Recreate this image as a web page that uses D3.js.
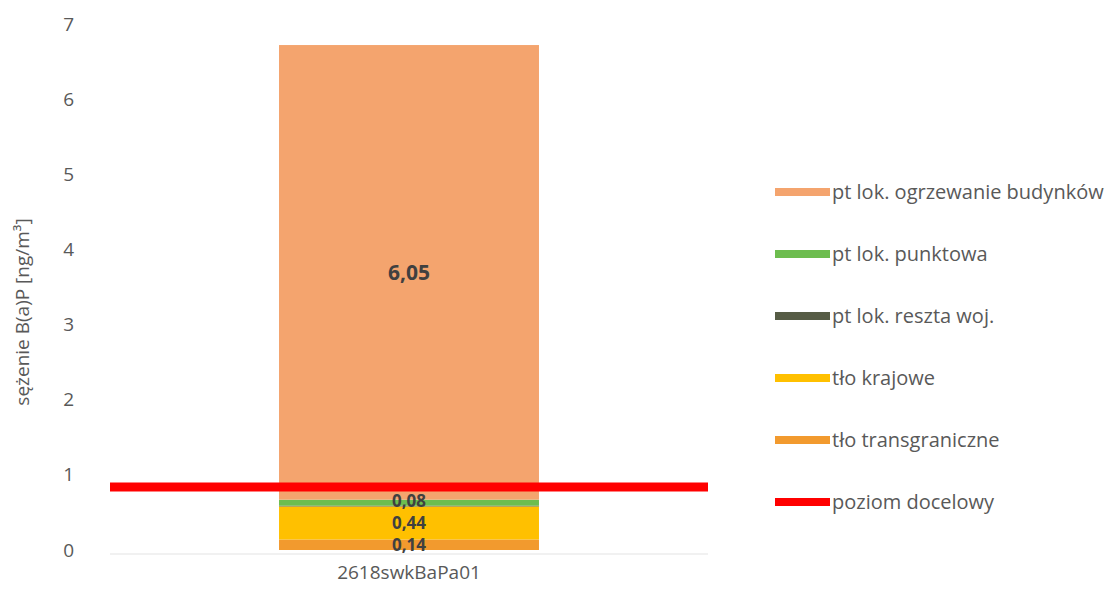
<!DOCTYPE html>
<html>
<head>
<meta charset="utf-8">
<script src="https://cdn.jsdelivr.net/npm/d3@7"></script>
<style>
  body { margin: 0; background: #fff; }
  text { font-family: "Open Sans", sans-serif; }
</style>
</head>
<body>
<div id="chart"></div>
<script>
var width = 1120,
	height = 590;

// data
var categories = ["2618swkBaPa01"];
var seriesNames = ["tło transgraniczne", "tło krajowe", "pt lok. reszta woj.", "pt lok. punktowa", "pt lok. ogrzewanie budynków"];
var seriesValues = [0.14, 0.44, 0.01, 0.08, 6.05];
var seriesLabels = ["0,14", "0,44", "", "0,08", "6,05"];
var seriesColors = ["#f29a2e", "#ffc000", "#565c45", "#6dbd4f", "#f4a46e"];
var targetName = "poziom docelowy";
var targetValue = 0.84;
var yTicks = [0, 1, 2, 3, 4, 5, 6, 7];

var svg = d3.select("#chart").append("svg")
	.attr("width", width)
	.attr("height", height);

var y = d3.scaleLinear().domain([0, 7]).range([550, 24]);
var x = d3.scaleBand().domain(categories).range([110, 708])
	.paddingInner(0.394).paddingOuter(0.394);

// y tick labels (no axis line)
var yAxis = svg.append("g")
	.attr("transform", "translate(82,0)")
	.call(d3.axisLeft(y).tickValues(yTicks).tickFormat(d3.format("d")).tickSize(0).tickPadding(8));
yAxis.select(".domain").remove();
yAxis.selectAll("text")
	.style("font-family", "'Open Sans', sans-serif")
	.style("font-size", "19px")
	.attr("fill", "#595959");

svg.append("text")
	.attr("transform", "translate(29,312) rotate(-90)")
	.attr("text-anchor", "middle")
	.style("font-size", "19px")
	.attr("fill", "#595959")
	.text("sężenie B(a)P [ng/m³]");

// baseline
svg.append("line")
	.attr("x1", 110).attr("x2", 708)
	.attr("y1", y(0) + 4).attr("y2", y(0) + 4)
	.attr("stroke", "#e3e3e3")
	.attr("stroke-width", 1);

// stacked segments
var stacked = [];
var acc = 0;
seriesValues.forEach(function(v, i) {
	stacked.push({ name: seriesNames[i], y0: acc, y1: acc + v, label: seriesLabels[i], color: seriesColors[i] });
	acc += v;
});

// label positions, pushed up a bit when they would collide
var prevPos = Infinity;
stacked.forEach(function(d) {
	if (!d.label) return;
	d.ly = Math.min(y((d.y0 + d.y1) / 2), prevPos - 22);
	prevPos = d.ly;
});

var bars = svg.append("g").attr("class", "bars");
categories.forEach(function(cat) {
	bars.selectAll("rect")
		.data(stacked)
		.enter()
		.append("rect")
		.attr("x", x(cat))
		.attr("width", x.bandwidth())
		.attr("y", function(d) { return y(d.y1); })
		.attr("height", function(d) { return y(d.y0) - y(d.y1); })
		.attr("fill", function(d) { return d.color; });

	bars.selectAll("text")
		.data(stacked.filter(function(d) { return d.label; }))
		.enter()
		.append("text")
		.attr("x", x(cat) + x.bandwidth() / 2)
		.attr("y", function(d) { return d.ly; })
		.attr("dy", "0.35em")
		.attr("text-anchor", "middle")
		.style("font-size", function(d) { return d.y1 - d.y0 > 1 ? "21px" : "17px"; })
		.style("font-weight", "bold")
		.attr("fill", "#404040")
		.text(function(d) { return d.label; });
});

// target line
svg.append("line")
	.attr("x1", 110).attr("x2", 708)
	.attr("y1", y(targetValue)).attr("y2", y(targetValue))
	.attr("stroke", "#ff0000")
	.attr("stroke-width", 9);

// category label
svg.append("g")
	.attr("transform", "translate(0," + (y(0) + 9) + ")")
	.call(d3.axisBottom(x).tickSize(0).tickPadding(6))
	.call(function(g) { g.select(".domain").remove(); })
	.selectAll("text")
	.style("font-family", "'Open Sans', sans-serif")
	.style("font-size", "19px")
	.attr("fill", "#595959");

// legend
var legendItems = [];
for (var i = seriesNames.length - 1; i >= 0; i--) {
	legendItems.push({ name: seriesNames[i], color: seriesColors[i] });
}
legendItems.push({ name: targetName, color: "#ff0000" });

var legend = svg.append("g").attr("class", "legend")
	.selectAll("g")
	.data(legendItems)
	.enter()
	.append("g")
	.attr("transform", function(d, i) { return "translate(775," + (192 + i * 62) + ")"; });

legend.append("line")
	.attr("x1", 0).attr("x2", 55)
	.attr("y1", 0).attr("y2", 0)
	.attr("stroke", function(d) { return d.color; })
	.attr("stroke-width", 8);

legend.append("text")
	.attr("x", 57)
	.attr("y", 0)
	.attr("dy", "0.35em")
	.style("font-size", "20px")
	.attr("fill", "#595959")
	.text(function(d) { return d.name; });
</script>
</body>
</html>
